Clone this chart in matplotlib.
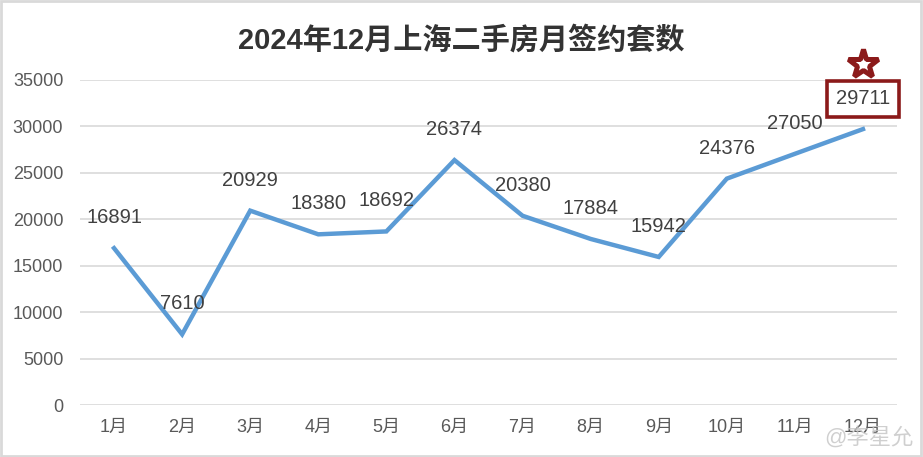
import matplotlib
matplotlib.use("Agg")
import matplotlib.pyplot as plt
import matplotlib.transforms as mtransforms
from matplotlib.patches import Rectangle

plt.rcParams['font.family'] = ['Liberation Sans', 'Noto Sans CJK SC', 'DejaVu Sans']

# data
months = ["1月", "2月", "3月", "4月", "5月", "6月",
          "7月", "8月", "9月", "10月", "11月", "12月"]
deals = [16891, 7610, 20929, 18380, 18692, 26374,
         20380, 17884, 15942, 24376, 27050, 29711]
yticks = [0, 5000, 10000, 15000, 20000, 25000, 30000, 35000]
title = "2024年12月上海二手房月签约套数"

line_color = "#5b9bd5"
mark_color = "#8b1a1a"
grid_color = "#d9d9d9"
text_color = "#404040"
tick_color = "#595959"

fig = plt.figure(figsize=(9.23, 4.57), dpi=100)
ax = fig.add_axes([80 / 923, 52 / 457, 817 / 923, 325 / 457])

x = list(range(len(months)))
ax.plot(x, deals, color=line_color, lw=3.2, solid_joinstyle="miter", zorder=3)

ax.set_xlim(-0.5, len(months) - 0.5)
ax.set_ylim(0, 35000)
ax.set_yticks(yticks)
ax.set_xticks(x)
ax.set_xticklabels(months)
ax.grid(axis="y", color=grid_color, lw=1.2)
ax.set_axisbelow(True)
for s in ax.spines.values():
    s.set_visible(False)
ax.tick_params(axis="both", length=0, labelsize=13, colors=tick_color)
ax.tick_params(axis="y", pad=12)
ax.tick_params(axis="x", pad=10)

# value labels
for i, v in enumerate(deals):
    kw = {}
    if i == len(deals) - 1:
        kw["bbox"] = dict(boxstyle="square,pad=0.42", fc="white",
                          ec=mark_color, lw=2.6)
    ax.annotate(str(v), (i, v), xytext=(0, 22), textcoords="offset points",
                ha="center", va="center", fontsize=14.5, color=text_color,
                annotation_clip=False, zorder=5, **kw)

# star over the last value
star_tr = mtransforms.offset_copy(ax.transData, fig=fig, x=0, y=65, units="dots")
ax.plot([x[-1]], [deals[-1]], marker="*", ms=22, mfc="white", mec=mark_color,
        mew=3.6, transform=star_tr, clip_on=False, zorder=6)

fig.text(0.5, 1 - 40 / 457, title, ha="center", va="center",
         fontsize=21, fontweight="bold", color="#333333")

# watermark
fig.text(0.99, 19 / 457, "@李星允", ha="right", va="center",
         fontsize=16, color="#c4c4c4", alpha=0.8, zorder=10)

fig.patches.append(Rectangle((0.001, 0.002), 0.997, 0.996, transform=fig.transFigure,
                             fill=False, ec=grid_color, lw=2))

fig.savefig("out.png", dpi=100)
